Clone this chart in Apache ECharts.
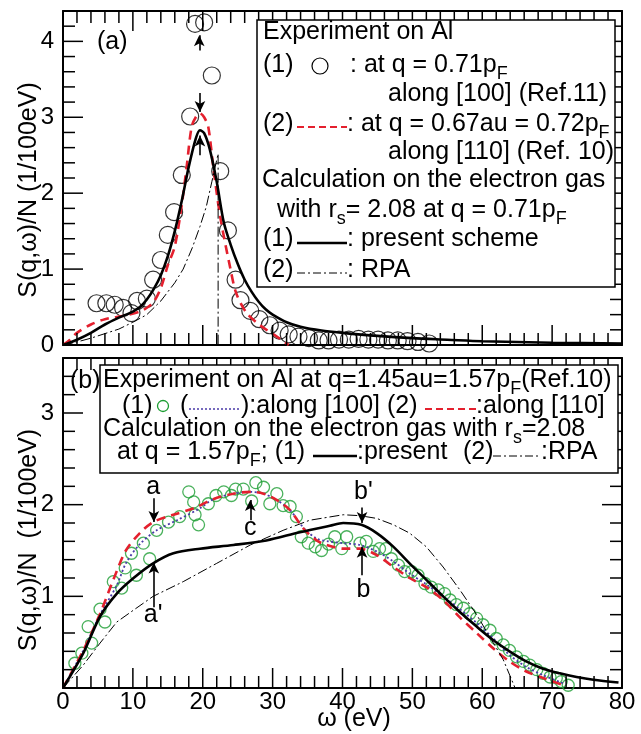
<!DOCTYPE html>
<html>
<head>
<meta charset="utf-8">
<script src="https://cdn.jsdelivr.net/npm/echarts@6/dist/echarts.min.js"></script>
<style>html,body{margin:0;padding:0;background:#fff}#main{width:641px;height:734px;background:#fff}</style>
</head>
<body>
<div id="main"></div>
<script>
// ---- panel (a) : q ~ 0.71 pF ----
var expA = [[4.8,0.55],[6.2,0.55],[7.4,0.53],[8.6,0.49],[9.8,0.42],[10.6,0.58],[12.0,0.61],[12.9,0.86],
  [14.0,1.12],[15.0,1.45],[15.9,1.75],[17.0,2.24],[18.2,3.01],[18.9,4.23],[20.2,4.25],[21.3,3.55],
  [22.5,2.29],[23.6,1.51],[24.7,0.86],[25.4,0.59],[26.8,0.45],[28.1,0.34],[29.6,0.26],[31.0,0.19],
  [32.3,0.14],[33.7,0.11],[35.2,0.09],[36.6,0.06],[38.0,0.06],[39.5,0.07],[40.9,0.07],[42.3,0.08],
  [43.7,0.07],[45.1,0.07],[46.5,0.06],[47.9,0.06],[49.3,0.05],[50.8,0.04],[52.4,0.02]];
var presentA = [[0,0],[2,0.07],[4,0.16],[6,0.27],[8,0.36],[10,0.44],[11,0.5],[12,0.6],[13,0.74],[14,0.92],
  [15,1.17],[16,1.5],[17,1.9],[18,2.35],[19,2.72],[19.6,2.83],[20.2,2.79],[21,2.58],[22,2.15],[23,1.62],
  [24,1.32],[25,1.07],[26,0.86],[27,0.7],[28,0.57],[29,0.47],[30,0.4],[32,0.3],[34,0.24],[37,0.19],
  [40,0.16],[45,0.12],[50,0.09],[55,0.07],[60,0.05],[70,0.03],[80,0.02]];
var red110A = [[0,0],[1,0.07],[2,0.16],[4,0.27],[6,0.34],[9,0.39],[11,0.44],[12,0.49],[13,0.57],[14,0.75],
  [15,1.05],[16,1.3],[17,1.85],[17.7,2.35],[18.4,2.87],[19,3.0],[19.6,3.05],[20.2,3.0],[20.8,2.87],
  [21.5,2.35],[22.5,1.69],[23.9,1.03],[24.8,0.68],[26.3,0.42],[28.2,0.26],[30.6,0.11],[32.3,0]];
var rpaA = [[0,0],[2,0.04],[4,0.09],[6,0.15],[8,0.21],[10,0.3],[12,0.4],[14,0.58],[16,0.82],[17.2,1.0],
  [18.5,1.28],[19.6,1.56],[20.5,1.82],[21.3,2.15],[22.2,2.52],[22.2,0]];
var yLabelsA = [0, 1, 2, 3, 4];

// ---- panel (b) : q = 1.57 pF ----
var expB = [[1.7,0.27],[2.7,0.38],[3.6,0.67],[4.1,0.49],[5.3,0.86],[6.0,0.72],[7.2,1.16],[8.4,1.09],
  [8.9,1.31],[9.8,1.47],[10.5,1.23],[11.5,1.58],[12.4,1.41],[13.4,1.72],[15.1,1.81],[16.7,1.87],
  [18.0,2.14],[18.7,2.03],[18.9,1.89],[19.4,1.78],[20.8,2.01],[21.9,2.1],[23.0,2.14],[24.1,2.1],
  [24.7,2.17],[25.8,2.17],[27.0,2.04],[27.6,2.24],[28.7,2.19],[29.6,2.01],[30.6,2.12],[31.5,1.99],
  [32.5,1.98],[33.4,1.87],[34.1,1.65],[35.1,1.58],[36.1,1.54],[37.0,1.5],[38.0,1.57],[38.9,1.65],
  [39.9,1.52],[40.6,1.65],[42.5,1.58],[43.4,1.6],[44.4,1.49],[45.3,1.52],[46.2,1.52],[47.0,1.41],
  [48.0,1.34],[48.9,1.27],[49.9,1.27],[50.8,1.23],[51.8,1.14],[52.7,1.1],[53.7,1.07],[54.6,1.03],
  [55.4,0.96],[56.3,0.91],[57.3,0.87],[58.2,0.81],[59.2,0.76],[60.1,0.69],[61.1,0.63],[62.0,0.54],
  [63.0,0.47],[63.9,0.41],[64.9,0.34],[65.9,0.29],[66.8,0.25],[67.8,0.2],[68.7,0.16],[69.7,0.12],
  [70.6,0.11],[71.3,0.07],[72.3,0.03]];
var dot100B = [[0,0],[2.9,0.41],[5.3,0.8],[7.7,1.12],[9,1.36],[11,1.57],[13.4,1.72],[16.3,1.83],[19.6,1.96],
  [21.5,2.06],[24.4,2.12],[26.8,2.14],[28.7,2.12],[30.6,2.05],[32.5,1.94],[34.4,1.75],[36.3,1.63],
  [38,1.6],[40.1,1.58],[42.5,1.56],[44.9,1.49],[47.3,1.38],[49.6,1.25],[52,1.13],[54.4,1.0],[56.8,0.86],
  [59.2,0.71],[61.6,0.54],[63.9,0.36],[66.3,0.23],[68.7,0.14],[71.6,0.05]];
var red110B = [[0,0],[2.9,0.41],[5.3,0.81],[7.2,1.18],[9.0,1.5],[11,1.69],[12.9,1.81],[15.8,1.89],[18.7,1.96],
  [21.5,2.06],[24.4,2.12],[26.8,2.14],[28.7,2.12],[30.6,2.05],[32.5,1.94],[34.4,1.74],[36.3,1.61],
  [37.7,1.56],[40.1,1.52],[42.5,1.52],[44.9,1.45],[47.3,1.32],[49.6,1.2],[52.0,1.1],[54.4,0.96],
  [56.8,0.77],[59.2,0.6],[61.6,0.43],[63.9,0.29],[66.3,0.18],[68.7,0.11],[71.6,0.03]];
var presentB = [[0,0],[2.9,0.38],[5.3,0.78],[7.7,1.03],[10.1,1.2],[12.9,1.36],[15.8,1.47],[19.6,1.52],
  [24.4,1.56],[29.1,1.61],[33.9,1.7],[38.2,1.77],[40.1,1.8],[42.7,1.78],[44.9,1.69],[47.3,1.54],
  [49.6,1.36],[52.0,1.18],[54.4,1.0],[56.8,0.83],[59.2,0.67],[61.6,0.52],[63.9,0.4],[66.3,0.29],
  [68.7,0.21],[71.1,0.16],[73.5,0.12],[75.9,0.09],[79.5,0.06]];
var rpaB = [[0,0],[2.9,0.25],[5.3,0.49],[7.7,0.72],[10.1,0.85],[12.9,1.0],[17.2,1.16],[22,1.36],[26.8,1.56],
  [31.5,1.72],[35.3,1.83],[40.1,1.89],[42.5,1.88],[44.9,1.85],[47.3,1.78],[49.6,1.69],[52,1.54],
  [54.4,1.32],[56.8,1.07],[59.2,0.8],[61.6,0.49],[63.0,0.31],[64.7,0]];
var yLabelsB = [1, 2, 3];
var xLabels = [0, 10, 20, 30, 40, 50, 60, 70, 80];

// tick steps: minor every 2 eV / 0.2, major every 10 eV / 1
var xMinorStep = 2, xMajorStep = 10, yMinorStep = 0.2, yMajorStep = 1;

// annotation arrows [x, yFrom, yTo] and letters [x, y, text]
var arrowsA = [[19.5,3.88,4.08],[19.6,3.32,3.07],[19.6,2.5,2.76]];
var arrowsB = [[13.0,2.07,1.81],[13.0,0.88,1.37],[26.8,1.83,2.05],[42.8,1.97,1.80],[42.8,1.23,1.54]];
var lettersB = [[12.9,2.19,'a'],[12.9,0.80,"a'"],[26.8,1.74,'c'],[43.0,2.14,"b'"],[43.0,1.07,'b']];

var F = '"Liberation Sans", Arial, Helvetica, sans-serif';
var K = '#000';
var RED = '#e4202e';
var GREEN = '#1d9e33';
var BLUE = '#4a3aa8';

var myChart = echarts.init(document.getElementById('main'));

function copy(o) { return JSON.parse(JSON.stringify(o)); }

function xPair(g, labels) {
    var common = {
        type: 'value', gridIndex: g, min: 0, max: 80, interval: 10,
        axisLine: {show: true, onZero: false, lineStyle: {color: K, width: 2}},
        axisTick: {show: false},
        splitLine: {show: false}
    };
    return [
        Object.assign({position: 'bottom', axisLabel: labels ? {show: true, color: K, fontSize: 24, fontFamily: F, margin: 2, customValues: xLabels} : {show: false}}, copy(common)),
        Object.assign({position: 'top', axisLabel: {show: false}}, copy(common))
    ];
}

function yPair(g, max, labelValues) {
    var common = {
        type: 'value', gridIndex: g, min: 0, max: max, interval: 1,
        axisLine: {show: true, onZero: false, lineStyle: {color: K, width: 2}},
        axisTick: {show: false},
        splitLine: {show: false}
    };
    return [
        Object.assign({position: 'left', axisLabel: {show: true, color: K, fontSize: 24, fontFamily: F, margin: 9, customValues: labelValues}}, copy(common)),
        Object.assign({position: 'right', axisLabel: {show: false}}, copy(common))
    ];
}

// tick positions for one panel: [x, y, kind(0 = x tick, 1 = y tick), major]
function tickData(ymax) {
    var out = [], i, v;
    for (i = 0; i <= Math.round(80 / xMinorStep); i++) {
        v = i * xMinorStep;
        out.push([v, 0, 0, (v % xMajorStep === 0) ? 1 : 0]);
    }
    for (i = 0; i <= Math.round(ymax / yMinorStep); i++) {
        v = Math.round(i * yMinorStep * 100) / 100;
        out.push([0, v, 1, (Math.abs(v / yMajorStep - Math.round(v / yMajorStep)) < 1e-6) ? 1 : 0]);
    }
    return out;
}

// inward ticks on all four sides, placed through the axes' own scales
function tickSeries(xi, yi, ymax) {
    return {
        type: 'custom', xAxisIndex: xi, yAxisIndex: yi, silent: true, z: 4,
        data: tickData(ymax),
        renderItem: function (params, api) {
            var cs = params.coordSys;
            var L = api.value(3) ? 20 : 12;
            var st = {stroke: K, lineWidth: 1.5};
            if (api.value(2) === 0) {
                var px = api.coord([api.value(0), 0])[0];
                return {type: 'group', children: [
                    {type: 'line', shape: {x1: px, y1: cs.y + cs.height, x2: px, y2: cs.y + cs.height - L}, style: st},
                    {type: 'line', shape: {x1: px, y1: cs.y, x2: px, y2: cs.y + L}, style: st}
                ]};
            }
            var py = api.coord([0, api.value(1)])[1];
            return {type: 'group', children: [
                {type: 'line', shape: {x1: cs.x, y1: py, x2: cs.x + L, y2: py}, style: st},
                {type: 'line', shape: {x1: cs.x + cs.width, y1: py, x2: cs.x + cs.width - L, y2: py}, style: st}
            ]};
        }
    };
}

function markArrows(list) {
    return {
        silent: true, animation: false, symbol: ['none', 'arrow'], symbolSize: [8, 11],
        label: {show: false}, lineStyle: {color: K, width: 1.6, type: 'solid'},
        data: list.map(function (a) {
            return [{coord: [a[0], a[1]]}, {coord: [a[0], a[2]]}];
        })
    };
}

function lineSeries(data, xi, yi, color, width, type, smooth, extra) {
    return Object.assign({
        type: 'line', xAxisIndex: xi, yAxisIndex: yi, data: data, symbol: 'none',
        smooth: smooth, lineStyle: {color: color, width: width, type: type}, z: 3
    }, extra || {});
}

// rich text helper for the legend lines: {m|..} normal, {s|..} subscript
function txt(x, y, str, size) {
    size = size || 25;
    if (str.indexOf('{') < 0) str = '{m|' + str + '}';
    return {
        type: 'text', x: x, y: y, z: 100,
        style: {
            text: str, fill: K, align: 'left', verticalAlign: 'middle',
            font: size + 'px ' + F,
            rich: {
                m: {fontSize: size, fontFamily: F, fill: K, verticalAlign: 'top', lineHeight: 30},
                s: {fontSize: Math.round(size * 0.72), fontFamily: F, fill: K, verticalAlign: 'top', lineHeight: 30, padding: [12, 0, 0, 0]}
            }
        }
    };
}
function seg(x1, x2, y, color, width, dash) {
    return {type: 'line', z: 100, shape: {x1: x1, y1: y, x2: x2, y2: y},
        style: {stroke: color, lineWidth: width, lineDash: dash || null}};
}

option = {
    animation: false,
    grid: [
        {left: 63, top: 11, width: 559, height: 334},
        {left: 63, top: 358, width: 559, height: 330}
    ],
    xAxis: xPair(0, false).concat(xPair(1, true)),
    yAxis: yPair(0, 4.4, yLabelsA).concat(yPair(1, 3.6, yLabelsB)),
    series: [
        tickSeries(0, 0, 4.4),
        {type: 'scatter', xAxisIndex: 0, yAxisIndex: 0, data: expA, symbol: 'circle', symbolSize: 17,
            itemStyle: {color: 'rgba(0,0,0,0)', borderColor: K, borderWidth: 1.2}, z: 2},
        lineSeries(red110A, 0, 0, RED, 2.6, [9, 6], 0.3),
        lineSeries(rpaA, 0, 0, K, 1, [10, 3, 2, 3], false),
        lineSeries(presentA, 0, 0, K, 2.6, 'solid', 0.3, {markLine: markArrows(arrowsA)}),

        tickSeries(2, 2, 3.6),
        {type: 'scatter', xAxisIndex: 2, yAxisIndex: 2, data: expB, symbol: 'circle', symbolSize: 12,
            itemStyle: {color: 'rgba(0,0,0,0)', borderColor: GREEN, borderWidth: 1.3}, z: 2},
        lineSeries(dot100B, 2, 2, BLUE, 1.8, [2, 2.5], 0.3),
        lineSeries(red110B, 2, 2, RED, 2.6, [9, 6], 0.3),
        lineSeries(rpaB, 2, 2, K, 1, [10, 3, 2, 3], false),
        lineSeries(presentB, 2, 2, K, 2.6, 'solid', 0.3, {
            markLine: markArrows(arrowsB),
            markPoint: {
                silent: true, animation: false, symbol: 'circle', symbolSize: 1,
                itemStyle: {color: 'rgba(0,0,0,0)'},
                label: {show: true, position: 'inside', formatter: '{b}', color: K, fontSize: 25, fontFamily: F},
                data: lettersB.map(function (l) { return {name: l[2], coord: [l[0], l[1]]}; })
            }
        })
    ],
    graphic: [
        // panel (a) legend
        {type: 'rect', z: 99, shape: {x: 257, y: 20, width: 358, height: 267}, style: {fill: '#fff', stroke: K, lineWidth: 1.5}},
        txt(263, 35, 'Experiment on Al'),
        txt(263, 68, '(1)'),
        {type: 'circle', z: 100, shape: {cx: 320, cy: 66, r: 8}, style: {fill: 'none', stroke: K, lineWidth: 1.2}},
        txt(350, 68, '{m|: at q = 0.71p}{s|F}'),
        txt(388, 97, 'along [100] (Ref.11)'),
        txt(263, 127, '(2)'),
        seg(297, 347, 127, RED, 2.2, [7, 4]),
        txt(347, 127, '{m|: at q = 0.67au = 0.72p}{s|F}'),
        txt(388, 155, 'along [110] (Ref. 10)'),
        txt(262, 183, 'Calculation on the electron gas'),
        txt(277, 213, '{m|with r}{s|s}{m|= 2.08 at q = 0.71p}{s|F}'),
        txt(263, 242, '(1)'),
        seg(297, 347, 243, K, 2.4),
        txt(347, 242, ': present scheme'),
        txt(263, 273, '(2)'),
        seg(297, 347, 273, K, 1, [8, 3, 2, 3]),
        txt(347, 273, ': RPA'),
        txt(97, 45, '(a)'),

        // panel (b) legend
        {type: 'rect', z: 99, shape: {x: 100, y: 365, width: 518, height: 108}, style: {fill: '#fff', stroke: K, lineWidth: 1.5}},
        txt(103, 383, '{m|Experiment on Al at q=1.45au=1.57p}{s|F}{m|(Ref.10)}'),
        txt(122, 409, '(1)'),
        {type: 'circle', z: 100, shape: {cx: 163, cy: 406, r: 5.5}, style: {fill: 'none', stroke: GREEN, lineWidth: 1.3}},
        txt(180, 409, '('),
        seg(189, 240, 409, BLUE, 1.6, [2, 2]),
        txt(241, 409, '):along [100] (2)'),
        seg(425, 476, 409, RED, 2.2, [7, 4]),
        txt(476, 409, ':along [110]'),
        txt(103, 432, '{m|Calculation on the electron gas with r}{s|s}{m|=2.08}'),
        txt(117, 455, '{m|at q = 1.57p}{s|F}{m|; (1)}'),
        seg(313, 357, 456, K, 2.4),
        txt(357, 455, ':present'),
        txt(463, 455, '(2)'),
        seg(493, 540, 456, K, 1, [8, 3, 2, 3]),
        txt(541, 455, ':RPA'),
        txt(70, 384, '(b)'),

        // axis titles
        {type: 'text', z: 100, x: 29, y: 190, rotation: Math.PI / 2,
            style: {text: 'S(q,\u03c9)/N (1/100eV)', font: '25px ' + F, fill: K, align: 'center', verticalAlign: 'middle'}},
        {type: 'text', z: 100, x: 29, y: 540, rotation: Math.PI / 2,
            style: {text: 'S(q,\u03c9)/N  (1/100eV)', font: '25px ' + F, fill: K, align: 'center', verticalAlign: 'middle'}},
        {type: 'text', z: 100, x: 354, y: 719,
            style: {text: '\u03c9 (eV)', font: '25px ' + F, fill: K, align: 'center', verticalAlign: 'middle'}}
    ]
};
myChart.setOption(option, true);
</script>
</body>
</html>
